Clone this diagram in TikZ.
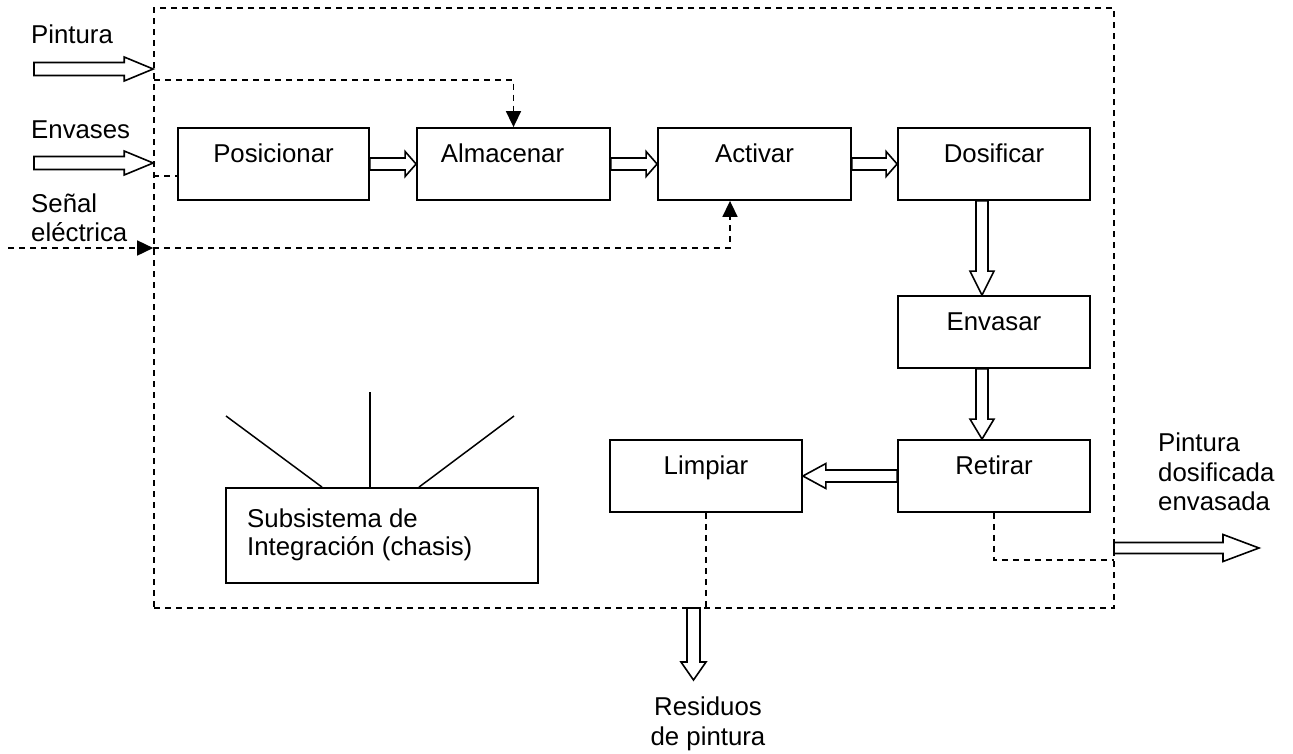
\documentclass[tikz,border=0pt]{standalone}
\usepackage{fontspec}
\setmainfont{Liberation Sans}
\usetikzlibrary{calc,arrows.meta}
\tikzset{
  box/.style={draw, line width=1.8pt, rectangle, inner sep=0pt},
  lbl/.style={anchor=base, inner sep=0pt, font=\fontsize{25.8}{29.5}\selectfont},
  txt/.style={anchor=base west, inner sep=0pt, font=\fontsize{25.8}{29.5}\selectfont},
  ctxt/.style={anchor=base, inner sep=0pt, font=\fontsize{25.8}{29.5}\selectfont},
  sig/.style={line width=1.6pt, dash pattern=on 6pt off 5pt},
  sigarrow/.style={sig, -{Triangle[length=16pt,width=15pt]}},
  hol/.style={draw, fill=white, line width=1.6pt, line join=miter},
  leg/.style={line width=1.5pt},
}
% #1 start, #2 tip, #3 shaft half width, #4 head half width, #5 head length
\newcommand\holarrow[5]{%
  \coordinate (hbase) at ($(#2)!#5!(#1)$);
  \draw[hol] ($(#1)!#3!90:(#2)$) -- ($(hbase)!#3!90:(#2)$) -- ($(hbase)!#4!90:(#2)$)
    -- (#2) -- ($(hbase)!#4!-90:(#2)$) -- ($(hbase)!#3!-90:(#2)$)
    -- ($(#1)!#3!-90:(#2)$) -- cycle;
}
\begin{document}
\begin{tikzpicture}[x=1pt,y=-1pt]
\useasboundingbox (0,0) rectangle (1293,753);

% system boundary
\node[draw, sig, rectangle, inner sep=0pt, minimum width=960pt, minimum height=600pt] (sys) at (634,308) {};

% boxes
\node[box, minimum width=191pt, minimum height=72pt] (pos) at (273.5,164) {};
\node[box, minimum width=193pt, minimum height=72pt] (alm) at (513.5,164) {};
\node[box, minimum width=193pt, minimum height=72pt] (act) at (754.5,164) {};
\node[box, minimum width=192pt, minimum height=72pt] (dos) at (994,164) {};
\node[box, minimum width=192pt, minimum height=72pt] (env) at (994,332) {};
\node[box, minimum width=192pt, minimum height=72pt] (ret) at (994,476) {};
\node[box, minimum width=192pt, minimum height=72pt] (lim) at (706,476) {};
\node[box, minimum width=312pt, minimum height=95pt] (sub) at (382,535.5) {};

% box labels
\node[lbl] (posL) at ([yshift=-35pt]pos.north) {Posicionar};
\node[lbl] (almL) at ([xshift=-11pt,yshift=-35pt]alm.north) {Almacenar};
\node[lbl] (actL) at ([yshift=-35pt]act.north) {Activar};
\node[lbl] (dosL) at ([yshift=-35pt]dos.north) {Dosificar};
\node[lbl] (envL) at ([yshift=-35pt]env.north) {Envasar};
\node[lbl] (retL) at ([yshift=-35pt]ret.north) {Retirar};
\node[lbl] (limL) at ([yshift=-35pt]lim.north) {Limpiar};
\node[txt] (subL1) at (247,527) {Subsistema de};
\node[txt] (subL2) at (247,555.5) {Integración (chasis)};

% subsystem legs
\coordinate (lg1) at (226,416);
\coordinate (lg2) at (370,392);
\coordinate (lg3) at (514,416);
\draw[leg] (lg1) -- ([xshift=-60pt]sub.north);
\draw[leg] (lg2) -- ([xshift=-12pt]sub.north);
\draw[leg] (lg3) -- ([xshift=37pt]sub.north);

% outside texts
\node[txt] (tPin) at (31,43) {Pintura};
\node[txt] (tEnv) at (31,138) {Envases};
\node[txt] (tSen1) at (31,212) {Señal};
\node[txt] (tSen2) at (31,241) {eléctrica};
\node[txt] (tOut1) at (1158,451) {Pintura};
\node[txt] (tOut2) at (1158,481) {dosificada};
\node[txt] (tOut3) at (1158,510.5) {envasada};
\node[ctxt] (tRes1) at (708,715) {Residuos};
\node[ctxt] (tRes2) at (708,745.5) {de pintura};

% coordinates
\coordinate (pinA) at (34,69);
\coordinate (pinB) at (sys.west |- pinA);
\coordinate (envA) at (34,163);
\coordinate (envB) at (sys.west |- envA);
\coordinate (pinS) at (154,80);
\coordinate (envS) at ([yshift=-12pt]pos.west);
\coordinate (senA) at (8,248);
\coordinate (senB) at (sys.west |- senA);
\coordinate (actS) at ([xshift=-24.5pt]act.south);
\coordinate (retO) at (1114,560);
\coordinate (outA) at (1114,548);
\coordinate (outB) at (1259,548);
\coordinate (resA) at (693.5,608);
\coordinate (resB) at (693.5,680);
\coordinate (d1) at ([xshift=-12pt]dos.south);
\coordinate (d2) at ([xshift=-12pt]env.north);
\coordinate (e1) at ([xshift=-12pt]env.south);
\coordinate (e2) at ([xshift=-12pt]ret.north);

% dashed signal lines
\draw[sigarrow] (pinS) -| (alm.north);
\draw[sig] (sys.west |- envS) -- (envS);
\draw[sigarrow] (senA) -- (senB);
\draw[sigarrow] (senB) -| (actS);
\draw[sig] (ret.south) |- (retO);
\draw[sig] (lim.south) -- (lim.south |- sys.south);

% hollow flow arrows
\holarrow{pinA}{pinB}{6.5pt}{12pt}{29pt}
\holarrow{envA}{envB}{6.5pt}{12pt}{29pt}
\holarrow{pos.east}{alm.west}{6pt}{12.5pt}{11pt}
\holarrow{alm.east}{act.west}{6pt}{12.5pt}{11pt}
\holarrow{act.east}{dos.west}{6pt}{12.5pt}{11pt}
\holarrow{d1}{d2}{6pt}{12pt}{24pt}
\holarrow{e1}{e2}{6pt}{12pt}{20pt}
\holarrow{ret.west}{lim.east}{6pt}{12.5pt}{23pt}
\holarrow{outA}{outB}{5.5pt}{13.5pt}{36pt}
\holarrow{resA}{resB}{6.5pt}{12.5pt}{18pt}
\end{tikzpicture}
\end{document}
